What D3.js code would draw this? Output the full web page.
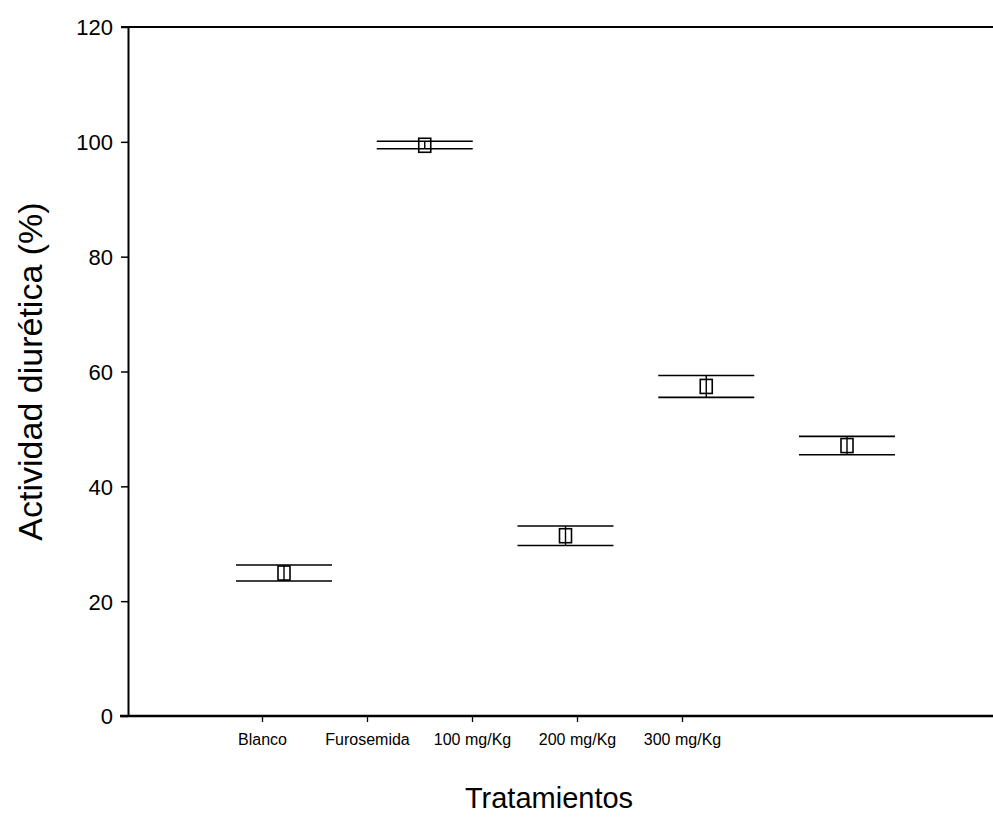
<!DOCTYPE html>
<html>
<head>
<meta charset="utf-8">
<script src="https://cdn.jsdelivr.net/npm/d3@7/dist/d3.min.js"></script>
<style>
  html, body { margin: 0; padding: 0; background: #fff; }
  svg { display: block; }
  text { font-family: "Liberation Sans", Arial, sans-serif; fill: #000; }
</style>
</head>
<body>
<svg id="chart" width="993" height="831"></svg>
<script>
// Treatments and diuretic activity (mean with upper / lower error limits)
const categories = ["Blanco", "Furosemida", "100 mg/Kg", "200 mg/Kg", "300 mg/Kg"];
const means = [24.9, 99.4, 31.4, 57.4, 47.1];
const upper = [26.3, 100.1, 33.1, 59.3, 48.7];
const lower = [23.5, 98.8, 29.7, 55.5, 45.5];
const yTicks = [0, 20, 40, 60, 80, 100, 120];

const svg = d3.select("#chart");
const W = 993;
const x0 = 128, yTop = 27, yBottom = 716;

const y = d3.scaleLinear().domain([0, 120]).range([yBottom, yTop]);
// category tick positions on the axis
const xAxisScale = d3.scalePoint().domain(categories).range([262, 682]);
// positions where the markers are plotted
const xPoint = d3.scalePoint().domain(categories).range([284, 847]);

// Y axis
const yAxis = svg.append("g")
  .attr("transform", `translate(${x0},0)`)
  .call(d3.axisLeft(y).tickValues(yTicks).tickSize(7).tickSizeOuter(0).tickPadding(8));
yAxis.select(".domain").attr("stroke", "#000").attr("stroke-width", 2);
yAxis.selectAll(".tick line").attr("stroke", "#000").attr("stroke-width", 1.5);
yAxis.selectAll(".tick text").style("font-size", "22px").attr("dy", "0.36em");

// Top border line at 120
svg.append("line")
  .attr("x1", x0 - 7).attr("x2", W)
  .attr("y1", y(120)).attr("y2", y(120))
  .attr("stroke", "#000").attr("stroke-width", 2);

// X axis
const xAxis = svg.append("g")
  .attr("transform", `translate(0,${yBottom})`)
  .call(d3.axisBottom(xAxisScale).tickSize(6).tickSizeOuter(0).tickPadding(12));
xAxis.select(".domain").remove();
xAxis.selectAll(".tick line").attr("stroke", "#000").attr("stroke-width", 1.3);
xAxis.selectAll(".tick text").style("font-size", "16px");
svg.append("line")
  .attr("x1", x0 - 8).attr("x2", W)
  .attr("y1", yBottom).attr("y2", yBottom)
  .attr("stroke", "#000").attr("stroke-width", 2.5);

// Error caps, vertical bars and open markers
const capHalf = 48;
const g = svg.append("g");
categories.forEach((c, i) => {
  const cx = xPoint(c);
  g.append("line")
    .attr("x1", cx - capHalf).attr("x2", cx + capHalf)
    .attr("y1", y(upper[i])).attr("y2", y(upper[i]))
    .attr("stroke", "#000").attr("stroke-width", 1.6);
  g.append("line")
    .attr("x1", cx - capHalf).attr("x2", cx + capHalf)
    .attr("y1", y(lower[i])).attr("y2", y(lower[i]))
    .attr("stroke", "#000").attr("stroke-width", 1.6);
  g.append("line")
    .attr("x1", cx).attr("x2", cx)
    .attr("y1", y(upper[i])).attr("y2", y(lower[i]))
    .attr("stroke", "#000").attr("stroke-width", 1.4);
  g.append("rect")
    .attr("x", cx - 6).attr("y", y(means[i]) - 7)
    .attr("width", 12).attr("height", 14)
    .attr("fill", "none").attr("stroke", "#000").attr("stroke-width", 1.6);
});

// Axis titles
svg.append("text")
  .attr("transform", `translate(42,${(yTop + yBottom) / 2}) rotate(-90)`)
  .attr("text-anchor", "middle")
  .style("font-size", "34px")
  .text("Actividad diurética (%)");

svg.append("text")
  .attr("x", 549).attr("y", 808)
  .attr("text-anchor", "middle")
  .style("font-size", "29px")
  .text("Tratamientos");
</script>
</body>
</html>
